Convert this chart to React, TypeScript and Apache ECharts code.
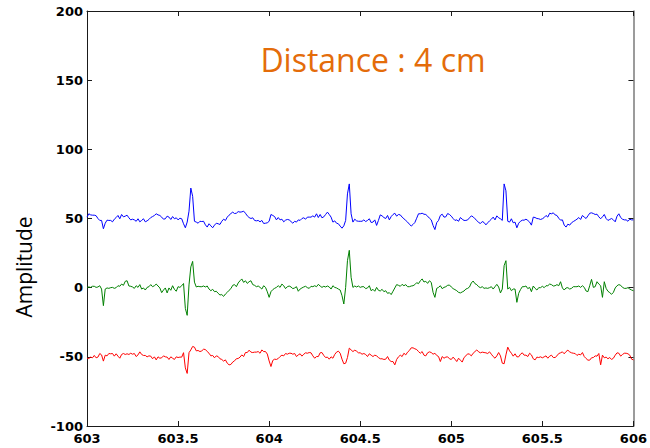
import React, { useEffect, useRef } from "react";
import * as echarts from "echarts";

// Sample clock of the recording (seconds)
const T_START = 603;
const SAMPLE_STEP = 0.01;

const X_MIN = 603;
const X_MAX = 606;
const X_INTERVAL = 0.5;
const Y_MIN = -100;
const Y_MAX = 200;
const Y_INTERVAL = 50;

const TITLE = "Distance : 4 cm";
const Y_NAME = "Amplitude";

// Channel 1 (offset +50)
const blueSignal = [
  51, 53.4, 52.6, 52.4, 52.4, 52, 50, 48.6, 48.6, 42.6,
  46.6, 48.8, 48.6, 48.6, 47.6, 49.5, 50.7, 52.2, 49.8, 52.9,
  51.2, 51.7, 52.4, 50.5, 49, 49.5, 49, 48, 49.8, 47.6,
  48.6, 49.8, 47.6, 48.3, 49.3, 50.7, 51.4, 52.2, 53.4, 52.6,
  52.2, 51, 49.5, 49.8, 51.7, 51, 49.3, 51.4, 49.8, 50.5,
  49, 50.2, 49.8, 46.2, 43.3, 47.4, 55.3, 72, 66, 48,
  47.4, 46.6, 48, 47.8, 48, 45.4, 43.8, 46.2, 44.7, 43.3,
  45.2, 46.6, 46.2, 45.7, 48, 49.5, 48.6, 51, 52.4, 53.6,
  54.6, 53.6, 53.8, 55, 54.6, 54.8, 55.3, 53.8, 51.9, 50.7,
  50, 50.5, 48.6, 48.3, 48.6, 47.6, 48.6, 46.4, 46.6, 46.9,
  48, 52.9, 52.2, 51.4, 49, 50.7, 49, 49.5, 47.6, 48.8,
  49.3, 49, 47.8, 46.6, 48, 47.4, 49, 48.6, 50, 50.5,
  49.5, 51, 51, 51, 51.9, 51, 53.4, 50.7, 52.9, 50.5,
  51.2, 52.9, 54.6, 52.9, 51, 47.4, 48.3, 46.6, 46.2, 44.5,
  43, 44.7, 48.6, 67.8, 75, 53.4, 47.4, 49.5, 48.3, 48,
  48, 48, 49, 47.8, 48.6, 49.8, 47.1, 47.4, 49, 45,
  48.6, 52.6, 51.9, 50.7, 50, 52.2, 49, 51.4, 52.9, 53.8,
  51.7, 52.9, 52.6, 51, 49.8, 48.6, 47.4, 45.9, 44.5, 45.7,
  47.1, 50.2, 53.4, 53.4, 53.8, 53.1, 52.9, 51.7, 50.2, 49,
  45, 42, 47, 48.6, 52.2, 53.1, 51, 51.2, 53.6, 52.9,
  51.7, 50, 48.6, 49, 48, 50.7, 49.5, 48.6, 48.6, 49,
  50.5, 51.9, 51.2, 49.8, 48.6, 47.1, 46.4, 47.8, 47.1, 45.4,
  46.9, 48.3, 49.5, 51, 49, 51.9, 50.5, 49.8, 48.6, 75,
  70, 48, 47.4, 49.8, 46.9, 47.4, 43.3, 46.6, 48, 48.8,
  48.8, 49.5, 48.6, 47.4, 45.2, 51, 50.7, 50, 49.8, 49.3,
  49.8, 50.7, 52.2, 51, 53.8, 53.4, 54.1, 52.6, 52.2, 50.2,
  48.8, 49, 45.2, 43.8, 45.9, 45.2, 46.9, 47.8, 48.6, 49.5,
  50.7, 49.3, 52.2, 51, 50, 51.9, 53.8, 54.1, 53.6, 52.9,
  53.1, 51.2, 49.8, 51.2, 52.9, 50, 48.6, 49.3, 50, 49,
  47.6, 51.7, 53.4, 50.7, 49.5, 49, 49, 48, 49.5, 49,
  49,
];

// Channel 2 (offset 0)
const greenSignal = [
  0.2, 0.5, 0.2, 1, 1, 0.2, 0.5, 1.4, -1, -13,
  -1, -0.2, -0.5, 0, 0.2, -0.5, 0, 1.4, 1, 2.6,
  1.7, 4.6, 5, 1.2, 1, 0.5, -0.5, 1.4, 0.2, 2.2,
  -1, -0.2, -1.7, 0.2, 0.7, 2.2, 0.7, 1.4, 2.6, 1.2,
  -0.2, -3.6, -1.7, -0.2, -3.8, -0.2, -1.9, 1.4, -1.2, -2.6,
  0.7, 0.2, 1.4, 3, -15, -20, 2, 15, 19, 4,
  0.5, 1, 0.7, 0.7, 1.2, 0.5, 1.2, -1, -2.2, -1.2,
  -2.9, -2.6, -4.1, -5.3, -5, -6.3, -4.6, -3.4, -1.9, -0.7,
  1.7, 2.2, 0.7, 3.4, 5, 6.3, 3.8, 5, 3.1, 4.3,
  5, 2.2, 1.7, 0.7, 1.2, 0.2, -1, 1.4, 0.2, -3,
  -7, -2.9, -1.4, -0.5, 0.2, 1.4, 0.2, 2.6, 1.4, -0.7,
  0.7, 1.2, 0.5, -0.7, -0.2, 0.7, -2.6, -1, -0.2, 0.5,
  1, 0, -0.5, 1, 0.7, 1.4, 0.7, 2.4, 1.2, 0.2,
  1, 0.5, 1.2, 0.5, -1, 1.4, 0.2, -0.2, -1, -1.7,
  -5.8, -11.8, 0.2, 19.5, 27, 7.5, 0.2, 1.2, 0.5, 1.2,
  0.2, 0.7, 0.7, -0.7, -0.2, 1.4, -2.2, -1.2, -2.6, 0.2,
  -1.9, -2.4, -1.2, -2.9, -2.2, -4.1, -3.6, -5, -2.6, -0.2,
  2.2, 1.7, 1, 2.4, 1.4, 2.2, 0.7, 0.7, 1.2, 1.4,
  2.2, 3.6, 2.9, 5, 6.3, 4.1, 4.6, 3.1, 5, 3.8,
  -3.4, -7, -0.5, 0.2, 1.4, -0.7, 0.2, 0.7, 1.7, 1.9,
  0.5, -0.7, -1.4, -2.2, -3.4, -3.8, -3.1, -2.4, -1, -0.5,
  0.5, 3.4, 4.8, 2.9, 2.2, 0.7, 0, 0.7, -0.5, -0.2,
  -0.5, 0, 0.7, -1, 0.7, 2.4, 0.5, -3.8, -1, 15.9,
  19.5, -1, 0.2, -2.2, -1, -1, -10.6, -4.1, -1.4, 0.7,
  0.7, 1.2, -0.7, 0.2, -2.9, 1.2, -0.5, -1.7, 0, 0,
  1, 0, 1.4, 1.4, 2.6, 2.2, 1.2, 1.4, 2.2, 1.4,
  4.3, -0.2, -1.7, -0.2, 0, -1, -0.5, 0.7, 0.7, 0.7,
  1.2, 0.2, 1.4, 0.2, -2.4, -2.9, 1.4, 6, 0.2, 0.7,
  4.3, 2.6, 1.4, -7, 4.3, -0.5, -2.6, -3.6, -4.8, -3.4,
  -0.2, 1.4, 2.2, 1.7, 0.2, -0.5, -0.5, 0, -1, -1.7,
  -2.2,
];

// Channel 3 (offset -50)
const redSignal = [
  -51, -51.2, -50.2, -50.7, -49, -50.7, -50.2, -47.6, -48.6, -53.1,
  -48.8, -49.3, -47.6, -47.8, -47.6, -49.5, -47.8, -49.5, -51, -48.3,
  -47.6, -48.3, -47.8, -48.3, -47.4, -48.1, -47.6, -49.8, -48.6, -46.4,
  -48.3, -49, -49, -50, -49.3, -49.5, -51.4, -50, -52.2, -50,
  -51, -50.7, -49.3, -50, -50.2, -51.9, -50, -51, -51.9, -50,
  -50.5, -50.2, -50.2, -47, -58, -62, -47, -45, -42.5, -43,
  -45.7, -45.4, -46.2, -45.7, -44.5, -44.7, -46.2, -47.4, -49.3, -49,
  -50.7, -49.3, -49.8, -51.4, -51.9, -53.1, -52.2, -54.6, -55.8, -55.5,
  -53.8, -52.9, -51.4, -51.2, -50.2, -48.6, -49.8, -46.9, -46.9, -45.2,
  -46.6, -46.9, -46.6, -46.6, -46.2, -47.4, -45, -46.2, -46.2, -48,
  -53, -57, -52.6, -51.7, -51.9, -51.2, -49.8, -48.8, -49.3, -47.6,
  -48.1, -47.4, -47.4, -48.1, -47.6, -49.8, -48.6, -47.8, -49.5, -48.1,
  -47.1, -47.4, -46.9, -47.1, -49.3, -51, -49.8, -49.8, -47.1, -46.9,
  -49, -50.5, -50.2, -51.7, -50, -51, -48.3, -46.6, -45.9, -47.4,
  -51.7, -55, -54.6, -50.5, -43.7, -45, -46.2, -45.2, -45.9, -47.1,
  -47.1, -48.1, -47.6, -48.3, -49.8, -47.8, -48.8, -49.8, -48.8, -49.3,
  -50.5, -51.4, -51.4, -51.9, -51.7, -49.8, -52.4, -53.4, -53.4, -55.8,
  -51.9, -50, -48.8, -49.8, -47.4, -48.6, -46.6, -45.4, -43.5, -43.5,
  -44.2, -44.7, -46.2, -47.4, -46.2, -48.8, -49.3, -47.1, -46.4, -46.9,
  -48.1, -47.4, -49, -49.8, -53.4, -49.8, -51, -50.2, -50, -51.4,
  -51.9, -50.2, -51.7, -53.4, -51, -52.4, -53.8, -50.5, -49.3, -47.8,
  -48.1, -49.3, -47.4, -46.2, -45, -46.4, -47.1, -46.6, -46.9, -47.1,
  -47.6, -46.4, -48.1, -49.8, -51, -49.3, -46.9, -49.3, -54.6, -55,
  -48.6, -43, -45.7, -47.4, -49.5, -47.8, -50, -50, -48.1, -47.1,
  -48.8, -48.8, -49.8, -47.4, -48.6, -51.4, -52.2, -50.2, -50.5, -50,
  -50.7, -50, -49.3, -51, -49.5, -48.8, -50.5, -50.5, -49.3, -47.6,
  -47.1, -46.4, -47.8, -46.2, -45.2, -46.4, -47.1, -47.4, -47.6, -49,
  -48.1, -48.6, -46.9, -49.8, -51.2, -52.4, -52.4, -50.7, -50.5, -49.3,
  -49.5, -47.6, -55.8, -48.8, -50.7, -50.2, -51.4, -50.5, -51.9, -51,
  -48.8, -47.1, -47.4, -49.5, -48.3, -47.4, -47.4, -47.8, -48.8, -51.7,
  -52.2,
];

const channels = [
  { name: "ch1", color: "#0000ff", values: blueSignal },
  { name: "ch2", color: "#008000", values: greenSignal },
  { name: "ch3", color: "#ff0000", values: redSignal },
];

const toPairs = (values: number[]) =>
  values.map((v, i) => [T_START + i * SAMPLE_STEP, v]);

const tickFont = {
  color: "#000",
  fontFamily: "DejaVu Sans",
  fontWeight: "bold",
  fontSize: 13,
};

function makeXAxis(position: "bottom" | "top", showLabels: boolean) {
  return {
    type: "value",
    position,
    min: X_MIN,
    max: X_MAX,
    interval: X_INTERVAL,
    axisLine: { show: true, onZero: false, lineStyle: { color: "#1a1a1a", width: 1 } },
    axisTick: { show: true, inside: true, length: 5, lineStyle: { color: "#1a1a1a", width: 1 } },
    axisLabel: { show: showLabels, margin: 6, ...tickFont },
    splitLine: { show: false },
  };
}

function makeYAxis(position: "left" | "right", showLabels: boolean, color: string) {
  return {
    type: "value",
    position,
    min: Y_MIN,
    max: Y_MAX,
    interval: Y_INTERVAL,
    axisLine: { show: true, onZero: false, lineStyle: { color, width: position === "right" ? 1.5 : 1 } },
    axisTick: { show: true, inside: true, length: 5, lineStyle: { color: "#1a1a1a", width: 1 } },
    axisLabel: { show: showLabels, margin: 4, ...tickFont },
    splitLine: { show: false },
  };
}

export default function App() {
  const ref = useRef<HTMLDivElement>(null);

  useEffect(() => {
    if (!ref.current) return;
    const chart = echarts.init(ref.current, null, { renderer: "svg" });
    chart.setOption({
      animation: false,
      backgroundColor: "#ffffff",
      grid: { left: 87, right: 13, top: 11, bottom: 22, containLabel: false },
      xAxis: [makeXAxis("bottom", true), makeXAxis("top", false)],
      yAxis: [makeYAxis("left", true, "#1a1a1a"), makeYAxis("right", false, "#7a7a7a")],
      series: channels.map((c) => ({
        name: c.name,
        type: "line",
        xAxisIndex: 0,
        yAxisIndex: 0,
        showSymbol: false,
        symbol: "none",
        silent: true,
        lineStyle: { color: c.color, width: 1 },
        data: toPairs(c.values),
      })),
      graphic: [
        {
          type: "text",
          x: 373,
          y: 59,
          style: {
            text: TITLE,
            fill: "#E46C0A",
            font: '32px "Open Sans"',
            textAlign: "center",
            textVerticalAlign: "middle",
          },
        },
        {
          type: "text",
          x: 24,
          y: 267,
          rotation: Math.PI / 2,
          style: {
            text: Y_NAME,
            fill: "#000",
            font: '21px "Open Sans"',
            textAlign: "center",
            textVerticalAlign: "middle",
          },
        },
      ],
    });
    return () => chart.dispose();
  }, []);

  return (
    <div
      ref={ref}
      style={{ position: "fixed", left: 0, top: 0, width: 650, height: 448, background: "#fff" }}
    />
  );
}
